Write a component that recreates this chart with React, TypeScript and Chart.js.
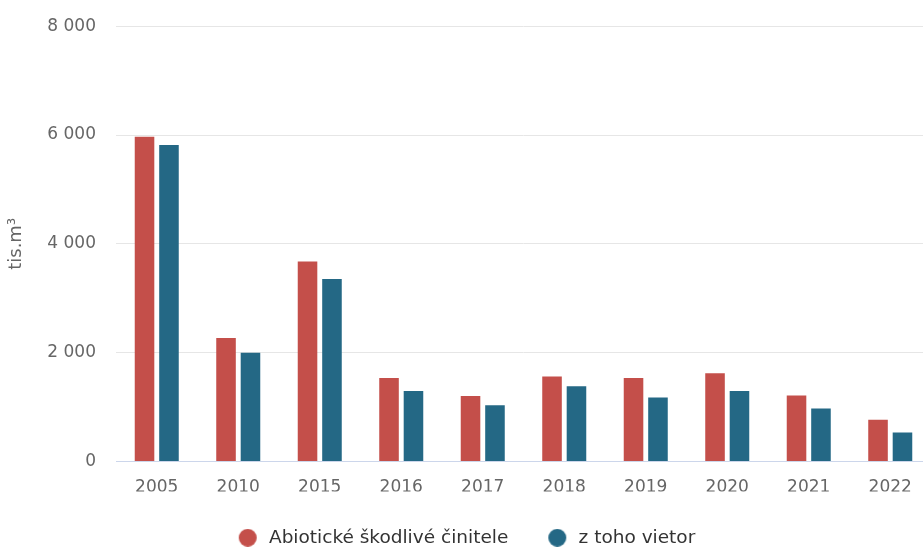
import React, { useEffect, useRef } from "react";
import { Chart, registerables } from "chart.js";

Chart.register(...registerables);

const categories = ["2005", "2010", "2015", "2016", "2017", "2018", "2019", "2020", "2021", "2022"];
const abioticke = [5970, 2270, 3675, 1536, 1205, 1560, 1536, 1620, 1211, 765];
const vietor = [5817, 2000, 3352, 1297, 1034, 1382, 1174, 1297, 973, 532];
const yTicks = [0, 2000, 4000, 6000, 8000];
const seriesNames = ["Abiotické škodlivé činitele", "z toho vietor"];
const seriesColors = ["#c44f4a", "#246885"];

const FONT = "'DejaVu Sans', Verdana, sans-serif";

function makeDot(color: string) {
  const c = document.createElement("canvas");
  c.width = 24;
  c.height = 18;
  const g = c.getContext("2d");
  if (g) {
    g.fillStyle = color;
    g.beginPath();
    g.arc(12, 9, 9, 0, Math.PI * 2);
    g.fill();
  }
  return c;
}

export default function App() {
  const ref = useRef<HTMLCanvasElement | null>(null);
  useEffect(() => {
    if (!ref.current) return;
    const dots = seriesColors.map(makeDot);
    const chart = new Chart(ref.current, {
      type: "bar",
      data: {
        labels: categories,
        datasets: [
          {
            label: seriesNames[0],
            data: abioticke,
            backgroundColor: seriesColors[0],
            categoryPercentage: 0.6,
            barPercentage: 0.8,
          },
          {
            label: seriesNames[1],
            data: vietor,
            backgroundColor: seriesColors[1],
            categoryPercentage: 0.6,
            barPercentage: 0.8,
          },
        ],
      },
      options: {
        responsive: false,
        animation: false,
        devicePixelRatio: 1,
        layout: { padding: { top: 21, left: 0, right: 0, bottom: 0 } },
        plugins: {
          tooltip: { enabled: false },
          legend: {
            position: "bottom",
            labels: {
              usePointStyle: true,
              boxHeight: 13,
              pointStyleWidth: 24,
              padding: 37,
              color: "#333333",
              font: { family: FONT, size: 18.5 },
              generateLabels: (ch: any) => {
                const items = Chart.defaults.plugins.legend.labels.generateLabels(ch);
                return items.map((it: any, i: number) => ({ ...it, pointStyle: dots[i] }));
              },
            },
          },
        },
        scales: {
          x: {
            grid: { display: false },
            border: { display: true, color: "#ccd6eb", width: 1, z: 1 },
            ticks: { color: "#666666", font: { family: FONT, size: 17 }, padding: 8 },
            afterFit: (s: any) => {
              s.height = 30;
            },
          },
          y: {
            min: 0,
            max: 8000,
            afterBuildTicks: (s: any) => {
              s.ticks = yTicks.map((v) => ({ value: v }));
            },
            grid: {
              color: (ctx: any) => (ctx.tick && ctx.tick.value === 0 ? "rgba(0,0,0,0)" : "#e6e6e6"),
              drawTicks: false,
              lineWidth: 1,
            },
            border: { display: false },
            ticks: {
              color: "#666666",
              font: { family: FONT, size: 17 },
              padding: 20,
              callback: (v: any) => String(v).replace(/\B(?=(\d{3})+(?!\d))/g, " "),
            },
            title: {
              display: true,
              text: "tis.m³",
              color: "#666666",
              font: { family: FONT, size: 18 },
              padding: { top: 6, bottom: 0 },
            },
            afterFit: (s: any) => {
              s.width = 116;
            },
          },
        },
      },
    });
    return () => chart.destroy();
  }, []);
  return (
    <div style={{ position: "fixed", left: 0, top: 0, width: 923, height: 547, overflow: "hidden", background: "#fff" }}>
      <canvas ref={ref} width={931} height={561} style={{ display: "block", marginTop: -4 }} />
    </div>
  );
}
